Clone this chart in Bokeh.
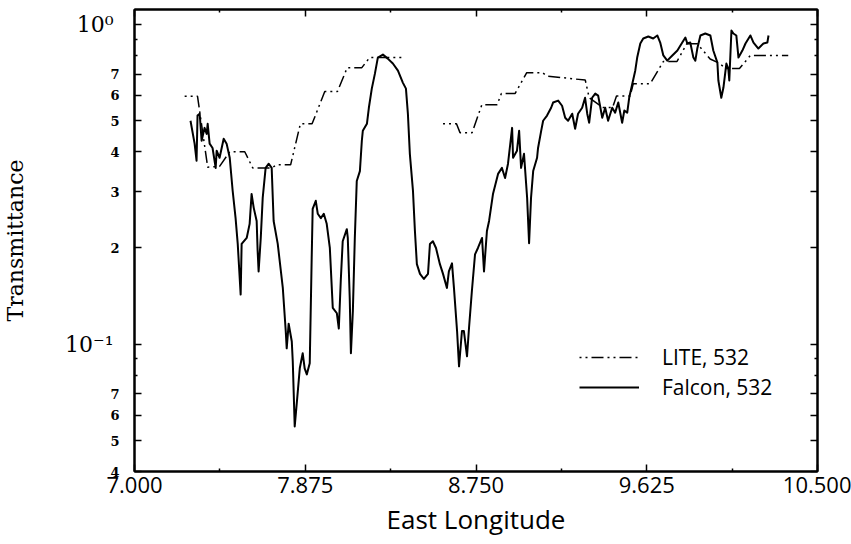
import numpy as np
from bokeh.plotting import figure
from bokeh.models import (Range1d, FixedTicker, LogAxis, LinearAxis, CustomJSTickFormatter,
                          Legend, LegendItem)
from bokeh.embed import file_html
from bokeh.resources import INLINE

# Falcon lidar transmittance at 532 nm along the flight track
falcon_lon = [7.287, 7.308, 7.318, 7.323, 7.334, 7.344, 7.359, 7.370, 7.375, 7.385, 7.400, 7.416,
              7.421, 7.436, 7.457, 7.472, 7.488, 7.503, 7.518, 7.529, 7.544, 7.549, 7.575, 7.590,
              7.600, 7.611, 7.626, 7.631, 7.636, 7.647, 7.657, 7.672, 7.688, 7.703, 7.713, 7.734,
              7.760, 7.775, 7.780, 7.790, 7.806, 7.811, 7.821, 7.831, 7.847, 7.862, 7.872, 7.883,
              7.898, 7.908, 7.913, 7.929, 7.939, 7.955, 7.970, 7.985, 8.001, 8.016, 8.037, 8.047,
              8.057, 8.067, 8.088, 8.093, 8.103, 8.109, 8.119, 8.129, 8.139, 8.155, 8.165, 8.170,
              8.191, 8.201, 8.216, 8.232, 8.247, 8.273, 8.298, 8.324, 8.350, 8.375, 8.391, 8.401,
              8.411, 8.427, 8.437, 8.447, 8.463, 8.483, 8.504, 8.514, 8.529, 8.545, 8.565, 8.581,
              8.601, 8.611, 8.627, 8.637, 8.653, 8.663, 8.678, 8.688, 8.704, 8.714, 8.729, 8.745,
              8.760, 8.781, 8.791, 8.806, 8.817, 8.837, 8.863, 8.883, 8.899, 8.914, 8.935, 8.940,
              8.960, 8.971, 8.981, 8.996, 9.012, 9.022, 9.032, 9.043, 9.063, 9.068, 9.084, 9.094,
              9.114, 9.135, 9.145, 9.171, 9.191, 9.207, 9.222, 9.243, 9.258, 9.273, 9.294, 9.309,
              9.320, 9.330, 9.345, 9.361, 9.376, 9.397, 9.412, 9.427, 9.448, 9.463, 9.479, 9.499,
              9.510, 9.525, 9.535, 9.551, 9.566, 9.576, 9.592, 9.607, 9.633, 9.658, 9.679, 9.694,
              9.710, 9.730, 9.756, 9.782, 9.807, 9.823, 9.833, 9.848, 9.864, 9.874, 9.884, 9.900,
              9.925, 9.951, 9.966, 9.987, 9.992, 10.007, 10.018, 10.033, 10.043, 10.048, 10.059,
              10.069, 10.084, 10.095, 10.115, 10.131, 10.156, 10.172, 10.197, 10.223, 10.243, 10.249]
falcon_trans = [0.500, 0.424, 0.375, 0.519, 0.526, 0.433, 0.475, 0.455, 0.489, 0.424, 0.411, 0.356,
                0.403, 0.383, 0.439, 0.424, 0.383, 0.302, 0.248, 0.206, 0.143, 0.206, 0.215, 0.238,
                0.295, 0.267, 0.243, 0.196, 0.169, 0.215, 0.287, 0.356, 0.367, 0.356, 0.243, 0.206,
                0.150, 0.110, 0.0971, 0.116, 0.102, 0.0885, 0.0553, 0.0648, 0.0841, 0.0937, 0.0841, 0.0805,
                0.0872, 0.186, 0.265, 0.281, 0.256, 0.248, 0.256, 0.238, 0.200, 0.130, 0.125, 0.112,
                0.158, 0.210, 0.229, 0.215, 0.139, 0.0937, 0.127, 0.215, 0.324, 0.348, 0.433, 0.465,
                0.489, 0.549, 0.630, 0.702, 0.788, 0.805, 0.782, 0.755, 0.717, 0.658, 0.630, 0.526,
                0.394, 0.302, 0.226, 0.178, 0.166, 0.160, 0.166, 0.206, 0.210, 0.200, 0.178, 0.166,
                0.150, 0.169, 0.179, 0.150, 0.110, 0.0853, 0.110, 0.110, 0.0917, 0.112, 0.147, 0.191,
                0.200, 0.215, 0.169, 0.226, 0.243, 0.295, 0.341, 0.356, 0.331, 0.367, 0.475, 0.383,
                0.403, 0.465, 0.356, 0.394, 0.287, 0.207, 0.287, 0.348, 0.383, 0.411, 0.465, 0.500,
                0.519, 0.549, 0.570, 0.578, 0.557, 0.511, 0.500, 0.526, 0.472, 0.526, 0.549, 0.590,
                0.526, 0.493, 0.590, 0.608, 0.599, 0.511, 0.549, 0.500, 0.549, 0.530, 0.570, 0.493,
                0.538, 0.530, 0.590, 0.653, 0.717, 0.788, 0.872, 0.904, 0.917, 0.904, 0.924, 0.878,
                0.800, 0.771, 0.800, 0.829, 0.878, 0.910, 0.872, 0.878, 0.788, 0.771, 0.841, 0.924,
                0.937, 0.924, 0.829, 0.760, 0.668, 0.590, 0.635, 0.755, 0.728, 0.668, 0.958,
                0.937, 0.924, 0.788, 0.829, 0.872, 0.924, 0.878, 0.841, 0.872, 0.878, 0.924]

# LITE retrievals at 532 nm (NaN marks the gap in coverage)
lite_lon = [7.257, 7.323, 7.375, 7.436, 7.488, 7.565, 7.606, 7.703, 7.730, 7.800, 7.850, 7.910,
            7.975, 8.040, 8.090, 8.165, 8.205, 8.386, np.nan,
            8.581, 8.650, 8.668, 8.730, 8.780, 8.858, 8.880, 8.950, 9.010, 9.090, 9.114, 9.310,
            9.330, 9.400, 9.450, 9.470, 9.540, 9.556, 9.643, 9.710, 9.780, 9.830, 9.884, 9.950,
            9.990, 10.033, 10.100, 10.156, 10.350]
lite_trans = [0.596, 0.596, 0.358, 0.360, 0.400, 0.400, 0.356, 0.356, 0.364, 0.364, 0.489, 0.489,
              0.617, 0.617, 0.733, 0.733, 0.788, 0.788, np.nan,
              0.489, 0.489, 0.459, 0.459, 0.561, 0.561, 0.608, 0.608, 0.707, 0.707, 0.690, 0.670,
              0.590, 0.550, 0.550, 0.598, 0.598, 0.653, 0.653, 0.766, 0.766, 0.870, 0.870, 0.780,
              0.760, 0.728, 0.728, 0.800, 0.800]

x_ticks = [7.0, 7.875, 8.75, 9.625, 10.5]
x_minor = [7.4375, 8.3125, 9.1875, 10.0625]
y_major = [0.04, 0.05, 0.06, 0.07, 0.1, 0.2, 0.3, 0.4, 0.5, 0.6, 0.7, 1.0]
y_minor = [0.08, 0.09, 0.8, 0.9]
y_decades = [0.1, 1.0]

p = figure(width=851, height=544, y_axis_type="log", output_backend="svg",
           toolbar_location=None, x_range=Range1d(7.0, 10.5), y_range=Range1d(0.04, 1.114),
           min_border_left=0, min_border_right=34, min_border_top=9, min_border_bottom=73)
p.xgrid.visible = False
p.ygrid.visible = False
p.outline_line_color = "black"
p.outline_line_width = 2
p.background_fill_color = "white"
p.border_fill_color = "white"

blank = CustomJSTickFormatter(code="return ''")


def style_axis(ax):
    ax.axis_line_color = "black"
    ax.axis_line_width = 2
    ax.major_tick_line_color = "black"
    ax.minor_tick_line_color = "black"
    ax.major_tick_line_width = 1.5
    ax.minor_tick_line_width = 1.5
    ax.major_tick_in = 7
    ax.major_tick_out = 0
    ax.minor_tick_in = 3
    ax.minor_tick_out = 0


xa = p.xaxis[0]
xa.ticker = FixedTicker(ticks=x_ticks, minor_ticks=x_minor)
xa.formatter = CustomJSTickFormatter(code="return tick.toFixed(3)")
style_axis(xa)
xa.major_label_text_font = "Open Sans"
xa.major_label_text_font_size = "22px"
xa.major_label_text_color = "black"
xa.major_label_standoff = 5
xa.axis_label = "East Longitude"
xa.axis_label_text_font = "Open Sans"
xa.axis_label_text_font_size = "26px"
xa.axis_label_text_font_style = "normal"
xa.axis_label_text_color = "black"
xa.axis_label_standoff = 5

# inner left axis: tick marks and the small mantissa digits
ya = p.yaxis[0]
ya.ticker = FixedTicker(ticks=y_major, minor_ticks=y_minor)
ya.formatter = CustomJSTickFormatter(code="""
    const e = Math.floor(Math.log10(tick) + 1e-9);
    const m = Math.round(tick / Math.pow(10, e));
    return m == 1 ? '' : String(m);
""")
style_axis(ya)
ya.major_label_text_font = "DejaVu Serif"
ya.major_label_text_font_style = "bold"
ya.major_label_text_font_size = "13px"
ya.major_label_text_color = "black"
ya.major_label_standoff = 15

# outer left axis: decade labels and the axis title
yd = LogAxis(ticker=FixedTicker(ticks=y_decades, minor_ticks=[]),
             formatter=CustomJSTickFormatter(code="""
    const e = Math.round(Math.log10(tick));
    const sup = {'0': '\u2070', '1': '\u00b9', '-': '\u207b'};
    return '10' + String(e).split('').map(c => sup[c]).join('');
"""))
yd.axis_line_color = None
yd.major_tick_line_color = None
yd.minor_tick_line_color = None
yd.major_tick_in = 0
yd.major_tick_out = 0
yd.major_label_standoff = -6
yd.major_label_text_font = "DejaVu Serif"
yd.major_label_text_font_size = "22px"
yd.major_label_text_color = "black"
yd.axis_label = "Transmittance"
yd.axis_label_text_font = "DejaVu Serif"
yd.axis_label_text_font_size = "22px"
yd.axis_label_text_font_style = "normal"
yd.axis_label_text_color = "black"
yd.axis_label_standoff = 34
p.add_layout(yd, "left")

top = LinearAxis(ticker=FixedTicker(ticks=x_ticks, minor_ticks=x_minor), formatter=blank)
style_axis(top)
top.major_label_standoff = 0
p.add_layout(top, "above")

right = LogAxis(ticker=FixedTicker(ticks=y_major, minor_ticks=y_minor), formatter=blank)
style_axis(right)
right.major_label_standoff = 0
p.add_layout(right, "right")

lite = p.line(lite_lon, lite_trans, line_color="black", line_width=1.5, line_dash="2 4 2 4 12 4")
falcon = p.line(falcon_lon, falcon_trans, line_color="black", line_width=2, line_join="round")


def legend_for(label, renderer, bottom):
    lg = Legend(items=[LegendItem(label=label, renderers=[renderer])], location=(445, bottom))
    lg.label_text_font = "Open Sans"
    lg.label_text_font_size = "21px"
    lg.label_text_color = "black"
    lg.glyph_width = 60
    lg.glyph_height = 20
    lg.label_height = 20
    lg.label_standoff = 23
    lg.padding = 0
    lg.margin = 0
    lg.border_line_color = None
    lg.background_fill_alpha = 0
    return lg


p.add_layout(legend_for("LITE, 532", lite, 100), "center")
p.add_layout(legend_for("Falcon, 532", falcon, 70), "center")

open("out.html", "w").write(file_html(p, INLINE))
